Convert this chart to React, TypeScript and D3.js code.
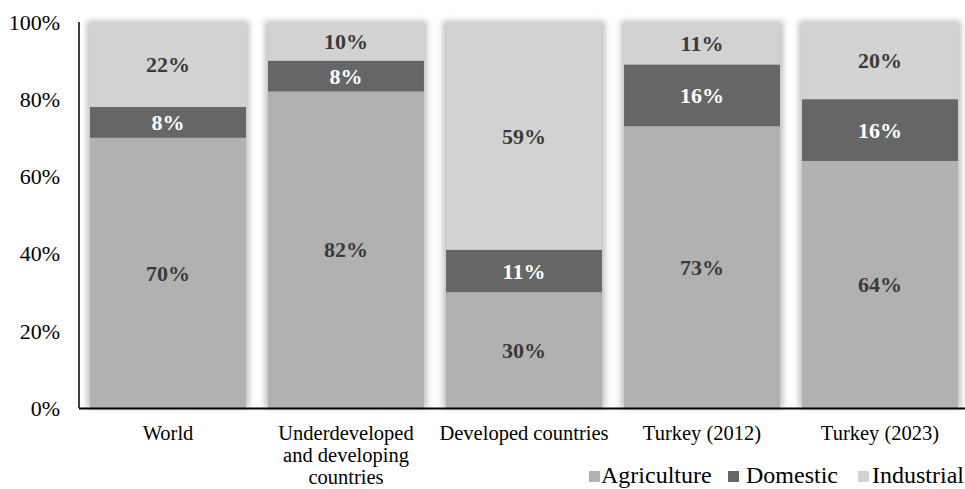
import React from "react";
import * as d3 from "d3";

const categories = ["World", "Underdeveloped and developing countries", "Developed countries", "Turkey (2012)", "Turkey (2023)"];
const categoryLines = [["World"], ["Underdeveloped", "and developing", "countries"], ["Developed countries"], ["Turkey (2012)"], ["Turkey (2023)"]];
const seriesNames = ["Agriculture", "Domestic", "Industrial"];
const agriculture = [70, 82, 30, 73, 64];
const domestic = [8, 8, 11, 16, 16];
const industrial = [22, 10, 59, 11, 20];
const yTicks = [0, 20, 40, 60, 80, 100];

const colors = ["#b1b1b1", "#666666", "#d2d2d2"];
const labelColors = ["#3a3a3a", "#ffffff", "#3a3a3a"];

export default function App() {
  const W = 965, H = 489;
  const left = 79, top = 22, bottom = 408;
  const x = d3.scaleBand<string>().domain(categories).range([left, left + 890]).paddingInner(0.124).paddingOuter(0.062);
  const y = d3.scaleLinear().domain([0, 100]).range([bottom, top]);
  const rows = categories.map((c, i) => ({ cat: c, Agriculture: agriculture[i], Domestic: domestic[i], Industrial: industrial[i] }));
  const stacked = d3.stack<any>().keys(seriesNames)(rows);
  const ff = "Liberation Serif, Tinos, DejaVu Serif, Times New Roman, serif";
  const st = { fontFamily: ff };

  return (
    <svg width={W} height={H} style={{ position: "absolute", left: 0, top: 0, background: "#fff", fontFamily: ff }}>
      <defs>
        <filter id="blur" x="-20%" y="-20%" width="140%" height="140%">
          <feGaussianBlur stdDeviation="3" />
        </filter>
      </defs>
      <rect x={0} y={0} width={W} height={H} fill="#fff" />
      {categories.map((c) => (
        <rect key={"sh" + c} x={(x(c) as number) - 3} y={top - 1} width={x.bandwidth() + 6} height={bottom - top + 1} fill="#bdbdbd" filter="url(#blur)" />
      ))}
      {stacked.map((s, si) =>
        s.map((d, i) => (
          <rect key={si + "-" + i} x={x(categories[i])} y={y(d[1])} width={x.bandwidth()} height={y(d[0]) - y(d[1])} fill={colors[si]} />
        ))
      )}
      {stacked.map((s, si) =>
        s.map((d, i) => (
          <text key={"l" + si + "-" + i} style={st} x={(x(categories[i]) as number) + x.bandwidth() / 2} y={y((d[0] + d[1]) / 2)} dy="0.35em" textAnchor="middle" fontWeight="bold" fontSize={22} fill={labelColors[si]}>
            {d[1] - d[0]}%
          </text>
        ))
      )}
      <line x1={left} x2={left} y1={top} y2={bottom} stroke="#000" strokeWidth={1.5} />
      <line x1={left} x2={W} y1={bottom + 0.5} y2={bottom + 0.5} stroke="#000" strokeWidth={2} />
      {yTicks.map((t) => (
        <text key={"y" + t} style={st} x={60} y={y(t)} dy="0.35em" textAnchor="end" fontSize={22} fill="#000">
          {t}%
        </text>
      ))}
      {categoryLines.map((lines, i) => (
        <text key={"x" + i} style={st} x={(x(categories[i]) as number) + x.bandwidth() / 2} y={440} textAnchor="middle" fontSize={20.5} fill="#000">
          {lines.map((ln, j) => (
            <tspan key={j} x={(x(categories[i]) as number) + x.bandwidth() / 2} dy={j === 0 ? 0 : 22}>{ln}</tspan>
          ))}
        </text>
      ))}
      {[{ sx: 589, tx: 601 }, { sx: 728, tx: 746 }, { sx: 858, tx: 872 }].map((p, i) => (
        <g key={"lg" + i}>
          <rect x={p.sx} y={471} width={11} height={11} fill={colors[i]} />
          <text style={st} x={p.tx} y={483} fontSize={24} fill="#000">{seriesNames[i]}</text>
        </g>
      ))}
    </svg>
  );
}
